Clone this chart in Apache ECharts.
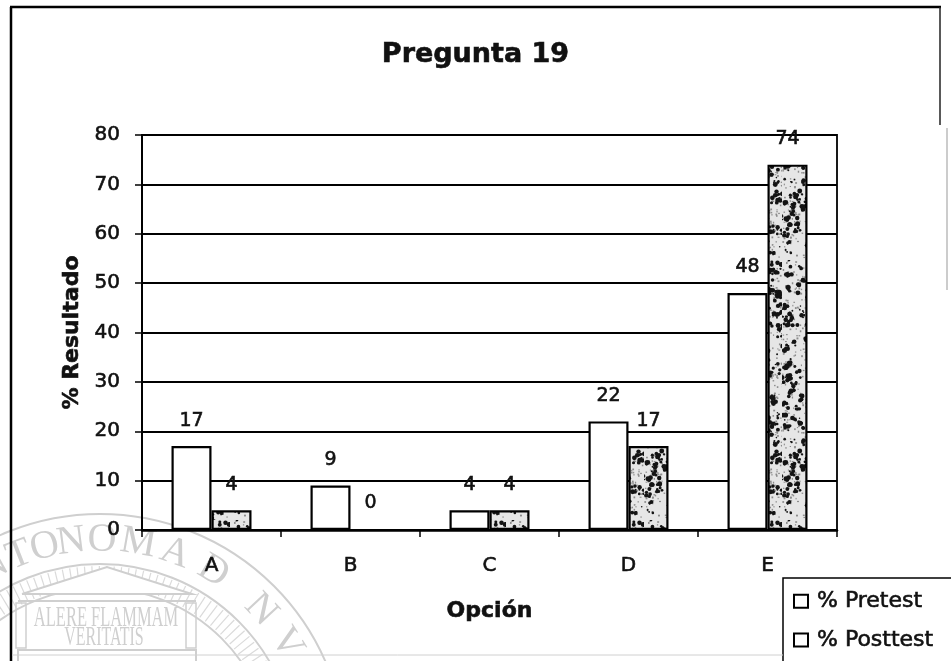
<!DOCTYPE html>
<html>
<head>
<meta charset="utf-8">
<title>Pregunta 19</title>
<script src="https://cdn.jsdelivr.net/npm/echarts@6/dist/echarts.min.js"></script>
<style>
  html, body { margin: 0; padding: 0; background: #fff; }
  #chart { width: 951px; height: 661px; }
</style>
</head>
<body>
<div id="chart"></div>
<script>
// Answer options and percentages for question 19
const categories = ['A', 'B', 'C', 'D', 'E'];
const pretest = [17, 9, 4, 22, 48];
const posttest = [4, 0, 4, 17, 74];
const yMin = 0, yMax = 80, yStep = 10;

const FONT = 'DejaVu Sans';
const INK = '#111';
// a thin outline of the same ink gives the printed text its heavier look
const heavy = { textBorderColor: INK, textBorderWidth: 0.6 };

// Speckled fill used for the post-test bars (seeded generator so it draws the same every time)
function speckleTexture() {
  const c = document.createElement('canvas');
  c.width = 46; c.height = 260;
  const ctx = c.getContext('2d');
  ctx.fillStyle = '#e6e6e6';
  ctx.fillRect(0, 0, c.width, c.height);
  let s = 0x9e3779b9;
  const rnd = () => {
    s |= 0; s = (s + 0x6D2B79F5) | 0;
    let t = Math.imul(s ^ (s >>> 15), 1 | s);
    t = (t + Math.imul(t ^ (t >>> 7), 61 | t)) ^ t;
    return ((t ^ (t >>> 14)) >>> 0) / 4294967296;
  };
  ctx.fillStyle = '#8c8c8c';
  for (let i = 0; i < 420; i++) {
    ctx.fillRect(rnd() * c.width, rnd() * c.height, 1 + rnd(), 1 + rnd());
  }
  ctx.fillStyle = '#141414';
  for (let i = 0; i < 170; i++) {
    const x = rnd() * c.width, y = rnd() * c.height;
    const parts = 1 + Math.floor(rnd() * 4);
    for (let k = 0; k < parts; k++) {
      ctx.beginPath();
      ctx.arc(x + (rnd() - 0.5) * 6, y + (rnd() - 0.5) * 6, 0.7 + rnd() * 1.9, 0, Math.PI * 2);
      ctx.fill();
    }
  }
  return c;
}

// Faint university seal printed behind the lower-left corner of the page
function sealGraphics() {
  const cx = 100, cy = 760;
  const grey = '#cfcfcf';
  const els = [];
  [246, 196, 172].forEach(r => els.push({
    type: 'circle', z: -10, silent: true,
    shape: { cx: cx, cy: cy, r: r },
    style: { fill: 'none', stroke: grey, lineWidth: 2 }
  }));
  for (let a = -64; a <= 64; a += 2.2) {
    const t = a * Math.PI / 180;
    els.push({
      type: 'line', z: -10, silent: true,
      shape: { x1: cx + 174 * Math.sin(t), y1: cy - 174 * Math.cos(t), x2: cx + 194 * Math.sin(t), y2: cy - 194 * Math.cos(t) },
      style: { stroke: '#dadada', lineWidth: 1.2 }
    });
  }
  const letters = [['N', -29], ['T', -21.5], ['O', -14.5], ['N', -7.5], ['O', 0.5], ['M', 10], ['A', 20], ['D', 31], ['N', 47], ['V', 58]];
  letters.forEach(([ch, deg]) => {
    const t = deg * Math.PI / 180;
    els.push({
      type: 'text', z: -10, silent: true,
      x: cx + 220 * Math.sin(t), y: cy - 220 * Math.cos(t), rotation: -t,
      style: { text: ch, font: '40px "Liberation Serif"', fill: grey, align: 'center', verticalAlign: 'middle' }
    });
  });
  els.push({
    type: 'polyline', z: -10, silent: true,
    shape: { points: [[22, 594], [107, 567], [192, 594], [22, 594]] },
    style: { fill: '#fff', stroke: grey, lineWidth: 2 }
  });
  els.push({ type: 'line', z: -10, silent: true, shape: { x1: 18, y1: 601, x2: 196, y2: 601 }, style: { stroke: grey, lineWidth: 2 } });
  [[16, 26], [186, 196]].forEach(([a, b]) => {
    els.push({ type: 'rect', z: -10, silent: true, shape: { x: a, y: 603, width: b - a, height: 45 }, style: { fill: 'none', stroke: grey, lineWidth: 1.5 } });
  });
  els.push({ type: 'rect', z: -10, silent: true, shape: { x: 18, y: 650, width: 178, height: 20 }, style: { fill: 'none', stroke: grey, lineWidth: 2 } });
  els.push({
    type: 'text', z: -10, silent: true, x: 106, y: 618, scaleX: 0.55,
    style: { text: 'ALERE FLAMMAM', font: '30px "Liberation Serif"', fill: grey, align: 'center', verticalAlign: 'middle' }
  });
  els.push({
    type: 'text', z: -10, silent: true, x: 104, y: 638, scaleX: 0.57,
    style: { text: 'VERITATIS', font: '28px "Liberation Serif"', fill: grey, align: 'center', verticalAlign: 'middle' }
  });
  return els;
}

// Outer frame of the chart sheet
function frameGraphics() {
  const seg = (x1, y1, x2, y2, w, c) => ({ type: 'line', silent: true, z: 50, shape: { x1, y1, x2, y2 }, style: { stroke: c, lineWidth: w } });
  return [
    seg(10, 7, 941, 7, 2.5, '#000'),
    seg(11, 7, 11, 661, 2.5, '#000'),
    seg(940, 7, 940, 125, 1.5, '#222'),
    seg(947, 128, 947, 290, 1, '#999'),
    seg(12, 655, 783, 655, 1, '#d0d0d0')
  ];
}

const labelStyle = Object.assign({ show: true, position: 'top', distance: 16, fontSize: 19, color: INK, fontFamily: FONT }, heavy);
const boxIcon = { color: '#fff', borderColor: '#000', borderWidth: 2 };

const chart = echarts.init(document.getElementById('chart'), null, { renderer: 'canvas' });
chart.setOption({
  animation: false,
  backgroundColor: '#fff',
  title: {
    text: 'Pregunta 19', left: 'center', top: 36,
    textStyle: Object.assign({ fontFamily: FONT, fontWeight: 'bold', fontSize: 27, color: INK }, heavy)
  },
  grid: {
    left: 142, right: 114, top: 135, bottom: 131,
    show: true, borderColor: '#000', borderWidth: 1.8, backgroundColor: 'transparent'
  },
  legend: {
    orient: 'vertical', left: 783, top: 578, width: 220, height: 130,
    padding: [12, 60, 40, 10],
    itemWidth: 14, itemHeight: 13, itemGap: 16,
    borderColor: '#000', borderWidth: 1.5,
    icon: 'rect',
    textStyle: Object.assign({ fontFamily: FONT, fontSize: 22, color: INK, padding: [0, 0, 0, 4] }, heavy),
    data: [
      { name: '% Pretest', itemStyle: boxIcon },
      { name: '% Posttest', itemStyle: boxIcon }
    ]
  },
  xAxis: {
    type: 'category', data: categories,
    axisLine: { lineStyle: { color: '#000', width: 2.5 } },
    axisTick: { show: true, length: 7, lineStyle: { color: '#000', width: 1.5 } },
    axisLabel: Object.assign({ fontFamily: FONT, fontSize: 20, color: INK, margin: 26 }, heavy),
    name: 'Opción', nameLocation: 'middle', nameGap: 70,
    nameTextStyle: Object.assign({ fontFamily: FONT, fontWeight: 'bold', fontSize: 22, color: INK }, heavy)
  },
  yAxis: {
    type: 'value', min: yMin, max: yMax, interval: yStep,
    axisLine: { show: true, lineStyle: { color: '#000', width: 2 } },
    axisTick: { show: true, length: 7, lineStyle: { color: '#000', width: 1.5 } },
    splitLine: { lineStyle: { color: '#000', width: 1.8 } },
    axisLabel: Object.assign({ fontFamily: FONT, fontSize: 20, color: INK, margin: 22 }, heavy),
    name: '% Resultado', nameLocation: 'middle', nameRotate: 90, nameGap: 58,
    nameTextStyle: Object.assign({ fontFamily: FONT, fontWeight: 'bold', fontSize: 22, color: INK }, heavy)
  },
  series: [
    {
      name: '% Pretest', type: 'bar', data: pretest,
      barWidth: 40, barGap: '0%',
      itemStyle: { color: '#fff', borderColor: '#000', borderWidth: 2.2 },
      label: labelStyle
    },
    {
      name: '% Posttest', type: 'bar', data: posttest,
      barWidth: 40, barGap: '0%',
      itemStyle: { color: { image: speckleTexture(), repeat: 'repeat' }, borderColor: '#000', borderWidth: 2.2 },
      label: labelStyle
    }
  ],
  graphic: sealGraphics().concat(frameGraphics())
});
</script>
</body>
</html>
